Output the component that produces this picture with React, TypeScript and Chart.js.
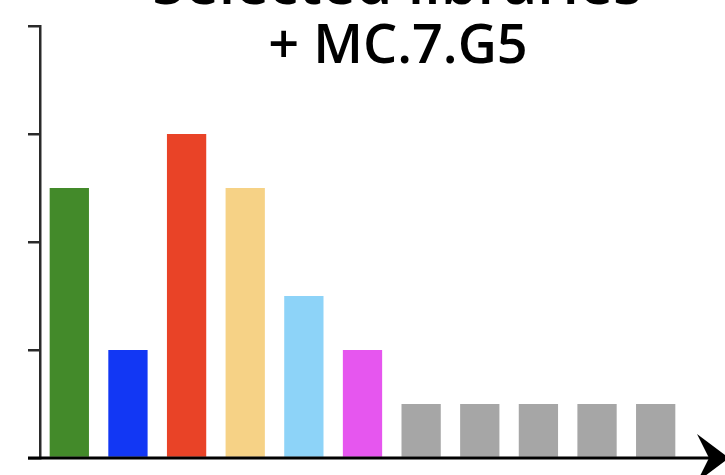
import React, { useEffect, useRef } from "react";
import { Chart, registerables } from "chart.js";

Chart.register(...registerables);

const categories = ["A", "B", "C", "D", "E", "F", "G1", "G2", "G3", "G4", "G5"];
const values = [2.5, 1, 3, 2.5, 1.5, 1, 0.5, 0.5, 0.5, 0.5, 0.5];
const colors = [
  "#438A2A",
  "#1237F4",
  "#E94327",
  "#F6D286",
  "#8DD3F8",
  "#E656EF",
  "#A6A6A6",
  "#A6A6A6",
  "#A6A6A6",
  "#A6A6A6",
  "#A6A6A6",
];
const titleLines = ["Selected libraries", "+ MC.7.G5"];
const yMax = 4;

const decorPlugin = {
  id: "decor",
  afterDraw(chart: any) {
    const { ctx, chartArea, width } = chart;
    const y = chart.scales.y.getPixelForValue(0);
    ctx.save();
    // x axis line with arrow
    ctx.strokeStyle = "#000";
    ctx.lineWidth = 3;
    ctx.beginPath();
    ctx.moveTo(chartArea.left - 12, y);
    ctx.lineTo(width - 12, y);
    ctx.stroke();
    const tip = width + 4;
    ctx.fillStyle = "#000";
    ctx.beginPath();
    ctx.moveTo(tip, y);
    ctx.lineTo(tip - 32, y - 24);
    ctx.lineTo(tip - 20, y);
    ctx.lineTo(tip - 32, y + 24);
    ctx.closePath();
    ctx.fill();
    // title
    ctx.fillStyle = "#000";
    ctx.textAlign = "center";
    ctx.textBaseline = "alphabetic";
    ctx.font = "600 59px 'Open Sans'";
    ctx.fillText(titleLines[0], 397, 4);
    ctx.font = "600 54px 'Open Sans'";
    ctx.fillText(titleLines[1], 398, 63);
    ctx.restore();
  },
};

export default function App() {
  const ref = useRef<HTMLCanvasElement>(null);
  useEffect(() => {
    const chart = new Chart(ref.current!, {
      type: "bar",
      data: {
        labels: categories,
        datasets: [
          {
            data: values,
            backgroundColor: colors,
            borderWidth: 0,
            barPercentage: 0.67,
            categoryPercentage: 1,
          },
        ],
      },
      options: {
        animation: false,
        responsive: false,
        devicePixelRatio: 1,
        layout: { padding: { left: 28, right: 40, top: 26, bottom: 17 } },
        plugins: {
          legend: { display: false },
          tooltip: { enabled: false },
          title: { display: false },
        },
        scales: {
          x: { display: false },
          y: {
            min: 0,
            max: yMax,
            ticks: { display: false, stepSize: 1 },
            grid: {
              drawOnChartArea: false,
              drawTicks: true,
              tickLength: 12,
              color: "#2a2a2a",
              lineWidth: 2.5,
            },
            border: { display: true, color: "#2a2a2a", width: 2.5 },
          },
        },
      },
      plugins: [decorPlugin],
    });
    return () => chart.destroy();
  }, []);
  return (
    <div style={{ position: "fixed", left: 0, top: 0, width: 725, height: 475, background: "#fff" }}>
      <canvas ref={ref} width={725} height={475} />
    </div>
  );
}
